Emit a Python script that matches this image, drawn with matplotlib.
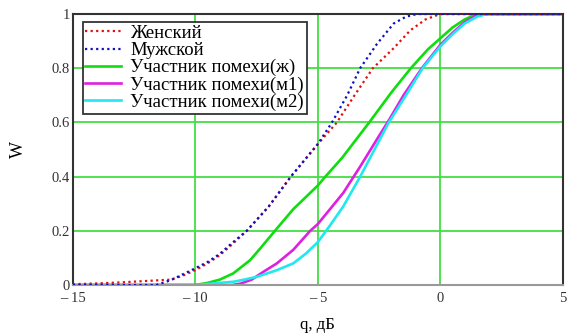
import numpy as np
from matplotlib import pyplot as plt

plt.rcParams['font.family'] = ['Liberation Serif', 'DejaVu Serif']

x_fem = [-15, -14, -13, -12, -11, -10.5, -10, -9.5, -9, -8.5, -7.9, -7, -6.1, -5,
         -4.22, -3.5, -2.75, -1.9, -1.22, -0.6, 0, 5]
w_fem = [0.003, 0.006, 0.01, 0.015, 0.02, 0.035, 0.055, 0.08, 0.11, 0.15, 0.2, 0.29, 0.4, 0.52,
         0.6, 0.7, 0.8, 0.874, 0.94, 0.98, 1.0, 1.0]

x_male = [-15, -11.6, -11, -10.5, -10, -9.5, -9, -8.5, -7.9, -7, -6.1, -5, -4.42,
          -3.8, -3.27, -2.58, -1.9, -1.4, -0.95, 5]
w_male = [0, 0, 0.018, 0.04, 0.062, 0.085, 0.115, 0.155, 0.2, 0.29, 0.4, 0.52, 0.6,
          0.7, 0.8, 0.89, 0.965, 0.99, 1.0, 1.0]

x_f = [-15, -10, -9.5, -9, -8.45, -7.76, -7.35, -6.75, -6, -5, -4.69, -4, -2.9,
       -2, -1.2, -0.5, 0, 0.5, 1, 1.5, 5]
w_f = [0, 0, 0.008, 0.02, 0.043, 0.092, 0.135, 0.2, 0.28, 0.367, 0.4, 0.47, 0.6,
       0.71, 0.8, 0.87, 0.91, 0.95, 0.98, 1.0, 1.0]

x_m1 = [-15, -8.5, -8.16, -7.7, -7.2, -6.67, -6, -5.31, -5, -4.5, -3.96, -3.27,
        -2.5, -2.15, -1.5, -0.75, 0, 0.5, 1, 1.6, 5]
w_m1 = [0, 0, 0.005, 0.02, 0.05, 0.08, 0.13, 0.2, 0.225, 0.28, 0.34, 0.437,
        0.55, 0.6, 0.7, 0.8, 0.886, 0.93, 0.97, 1.0, 1.0]

x_m2 = [-15, -10, -9.5, -9, -8.45, -8, -7.5, -7, -6.67, -6, -5.5, -5, -4.5, -3.96,
        -3.27, -2.45, -2.1, -1.4, -0.72, 0, 0.5, 1, 1.5, 1.9, 5]
w_m2 = [0, 0, 0.004, 0.008, 0.012, 0.02, 0.03, 0.045, 0.055, 0.08, 0.115, 0.158, 0.22, 0.29,
        0.40, 0.54, 0.6, 0.7, 0.8, 0.88, 0.925, 0.965, 0.99, 1.0, 1.0]

x_ticks = [-15, -10, -5, 0, 5]
x_labels = ['\u2013 15', '\u2013 10', '\u2013 5', '0', '5']
y_ticks = [0, 0.2, 0.4, 0.6, 0.8, 1]
y_labels = ['0', '0.2', '0.4', '0.6', '0.8', '1']

fig = plt.figure(figsize=(5.69, 3.33), dpi=100)
ax = fig.add_axes([0.128, 0.144, 0.861, 0.814])

grid_col = '#44dd44'
for gx in [-10, -5, 0]:
    ax.axvline(gx, color=grid_col, lw=1.3, zorder=1)
for gy in [0.2, 0.4, 0.6, 0.8]:
    ax.axhline(gy, color=grid_col, lw=1.3, zorder=1)

ax.plot(x_fem, w_fem, color='#e01010', lw=1.6, ls=(0, (1, 1.5)), label='Женский', zorder=3)
ax.plot(x_male, w_male, color='#1010c0', lw=1.6, ls=(0, (1, 1.5)), label='Мужской', zorder=3)
ax.plot(x_f, w_f, color='#10dd10', lw=1.9, label='Участник помехи(ж)', zorder=2)
ax.plot(x_m1, w_m1, color='#e020e0', lw=1.9, label='Участник помехи(м1)', zorder=2)
ax.plot(x_m2, w_m2, color='#20e8f0', lw=1.9, label='Участник помехи(м2)', zorder=2)

ax.set_xlim(-15, 5)
ax.set_ylim(0, 1)
ax.set_xticks(x_ticks)
ax.set_xticklabels(x_labels)
ax.set_yticks(y_ticks)
ax.set_yticklabels(y_labels)
ax.tick_params(length=0, labelsize=10.5, colors='#333333')
ax.tick_params(axis='x', pad=5)
ax.tick_params(axis='y', pad=2)

for s in ['left', 'top', 'right']:
    ax.spines[s].set_color('#333333')
    ax.spines[s].set_linewidth(1.5)
ax.spines['bottom'].set_color('#999999')
ax.spines['bottom'].set_linewidth(1.5)

ax.set_xlabel('q, дБ', fontsize=12, labelpad=9)
ax.set_ylabel('W', fontsize=13, labelpad=18)

leg = ax.legend(loc='upper left', bbox_to_anchor=(0.02, 0.97), fontsize=13.5,
                fancybox=False, framealpha=1, edgecolor='#333333',
                handlelength=1.9, handletextpad=0.5, labelspacing=0.0,
                borderpad=0.15, borderaxespad=0)
leg.get_frame().set_linewidth(1.3)

plt.savefig('out.png', dpi=100)
